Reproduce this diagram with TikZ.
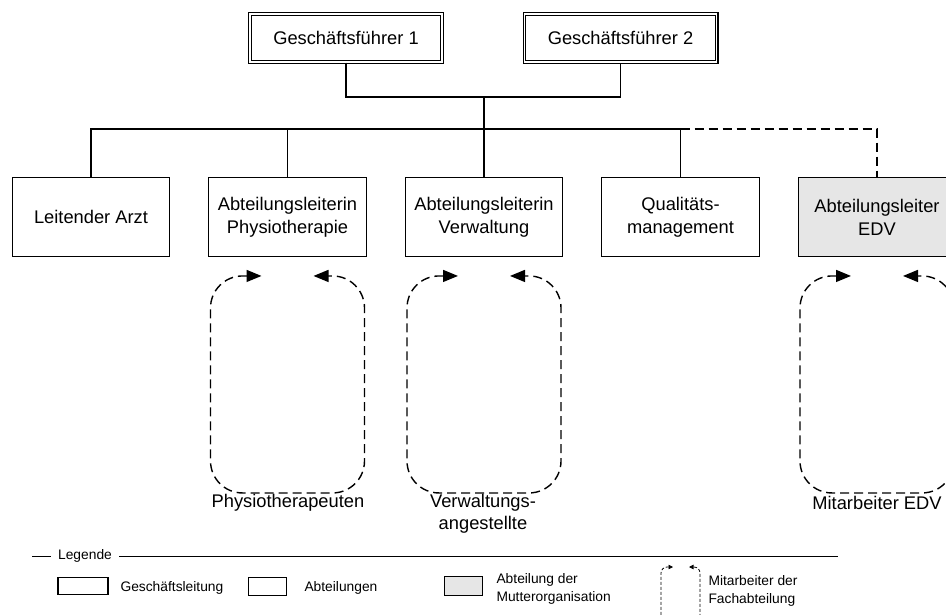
\documentclass[tikz,border=0pt]{standalone}
\usepackage{fontspec}
\setmainfont{Liberation Sans}
\usetikzlibrary{arrows.meta, calc, positioning}
\definecolor{mutterfill}{RGB}{230,230,230}

\begin{document}
\begin{tikzpicture}[x=1pt, y=-1pt, >={Triangle[length=15pt, width=12pt]},
    gfbox/.style={draw, double, double distance=1.5pt, line width=1.1pt, minimum width=192.3pt, minimum height=48.3pt, font=\fontsize{18.3}{23}\selectfont},
    abtbox/.style={draw, line width=1.4pt, minimum width=157.5pt, minimum height=78.5pt, align=center, font=\fontsize{18.3}{23}\selectfont},
    mitloop/.style={dashed, dash pattern=on 9pt off 5pt, line width=1.4pt, rounded corners=32pt},
    lbl/.style={align=center, font=\fontsize{18.3}{22}\selectfont},
    leglbl/.style={anchor=west, align=left, font=\fontsize{13.8}{18}\selectfont}]

    \useasboundingbox (0,0) rectangle (946,614);
    \clip (0,0) rectangle (946,614);

    % Geschaeftsfuehrung
    \node[gfbox] (gf1) at (346,38) {Geschäftsführer 1};
    \node[gfbox] (gf2) at (620.5,38) {Geschäftsführer 2};

    % Abteilungen
    \node[abtbox] (arzt) at (91,217) {Leitender Arzt};
    \node[abtbox] (physio) at (287.5,217) {Abteilungsleiterin\\Physiotherapie};
    \node[abtbox] (verw) at (484,217) {Abteilungsleiterin\\Verwaltung};
    \node[abtbox] (qual) at (680.5,217) {Qualitäts-\\management};
    \node[abtbox, fill=mutterfill] (edv) at (877,217) {Abteilungsleiter\\EDV};

    \coordinate (gfbus) at (484,97);
    \coordinate (abtbus) at (484,129);

    \draw[line width=1.4pt] (gf1.south) |- (gfbus) -| (gf2.south);
    \draw[line width=1.4pt] (gfbus) -- (abtbus);
    \draw[line width=1.4pt] (arzt.north) |- (abtbus) -| (qual.north);
    \draw[line width=1.4pt] (physio.north) -- (physio.north |- abtbus);
    \draw[line width=1.4pt] (verw.north) -- (verw.north |- abtbus);
    \draw[mitloop, rounded corners=0pt] (qual.north |- abtbus) -| (edv.north);

    % Mitarbeiter der Fachabteilungen
    \draw[mitloop, <->] ($(physio.south)+(-26,19)$) -- ++(-51,0) -- ++(0,217) -- ++(154,0) -- ++(0,-217) -- ++(-51,0);
    \draw[mitloop, <->] ($(verw.south)+(-26,19)$) -- ++(-51,0) -- ++(0,217) -- ++(154,0) -- ++(0,-217) -- ++(-51,0);
    \draw[mitloop, <->] ($(edv.south)+(-26,19)$) -- ++(-51,0) -- ++(0,217) -- ++(154,0) -- ++(0,-217) -- ++(-51,0);

    \node[lbl] (physiolbl) at (288,503) {Physiotherapeuten};
    \node[lbl] (verwlbl) at (483,514) {Verwaltungs-\\angestellte};
    \node[lbl] (edvlbl) at (877,503) {Mitarbeiter EDV};

    % Legende
    \node[font=\fontsize{13.8}{16}\selectfont] (legende) at (85,556) {Legende};
    \coordinate (legstart) at (32,556);
    \coordinate (legend) at (838,556);
    \draw[line width=1pt] (legstart) -- ([xshift=-4pt]legende.west);
    \draw[line width=1pt] ([xshift=4pt]legende.east) -- (legend);

    \node[draw, line width=1.8pt, minimum width=50pt, minimum height=17pt] (leggf) at (83,586) {};
    \node[leglbl] (leggftxt) at (117,588) {Geschäftsleitung};
    \node[draw, line width=0.8pt, minimum width=38pt, minimum height=18.5pt] (legabt) at (267.5,586.5) {};
    \node[leglbl] (legabttxt) at (301,588) {Abteilungen};
    \node[draw, fill=mutterfill, line width=0.8pt, minimum width=38pt, minimum height=19pt] (legmutter) at (463.5,586) {};
    \node[leglbl] (legmuttertxt) at (493,589) {Abteilung der\\Mutterorganisation};

    \draw[dashed, dash pattern=on 3pt off 2pt, line width=0.8pt, rounded corners=6pt, {Triangle[length=4.5pt, width=4.5pt]}-{Triangle[length=4.5pt, width=4.5pt]}]
        (673,567) -- (661,567) -- (661,640) -- (700,640) -- (700,567) -- (689,567);
    \node[leglbl] (legmittxt) at (705,591) {Mitarbeiter der\\Fachabteilung};
\end{tikzpicture}
\end{document}
